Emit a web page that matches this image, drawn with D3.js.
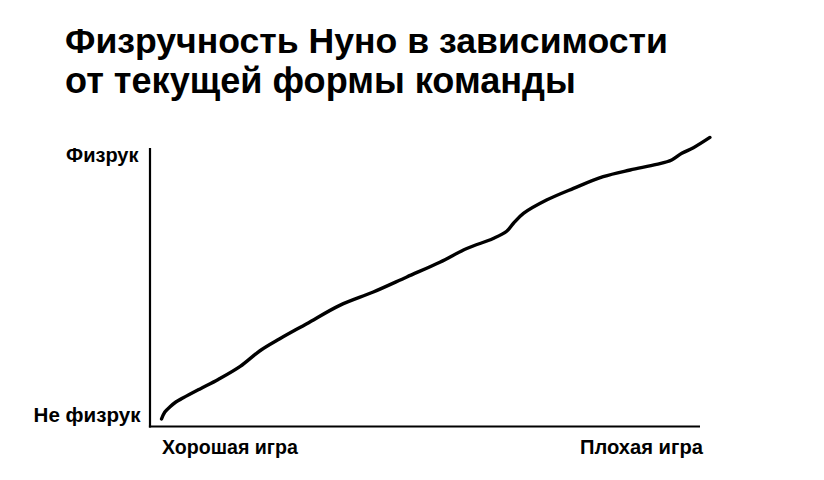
<!DOCTYPE html>
<html>
<head>
<meta charset="utf-8">
<script src="https://cdn.jsdelivr.net/npm/d3@7"></script>
<style>
  html, body { margin: 0; padding: 0; background: #fff; }
  svg { display: block; }
  text { font-family: "Liberation Sans", Arial, sans-serif; font-weight: bold; fill: #000; }
</style>
</head>
<body>
<script>
// ---- Data ----
const titleLines = ["Физручность Нуно в зависимости", "от текущей формы команды"];
const yLabels = ["Не физрук", "Физрук"];
const xLabels = ["Хорошая игра", "Плохая игра"];
// Team form (0 = good game, 100 = bad game)
const formValues = [2.1, 2.7, 3.6, 4.7, 6.05, 9.1, 12.4, 16.4, 20.0, 23.6, 28.5, 34.5, 40.6, 46.7, 52.7, 57.6, 62.4, 64.85, 66.05, 67.9, 72.1, 77.0, 82.4, 87.3, 92.1, 94.85, 96.7, 98.8, 101.8];
// Fizruk level (0 = not fizruk, 100 = fizruk)
const fizrukValues = [2.7, 5.2, 7.0, 8.8, 10.3, 13.5, 16.9, 21.6, 27.2, 31.5, 36.9, 43.5, 48.3, 53.7, 59.0, 63.9, 67.5, 70.1, 72.9, 76.5, 81.3, 85.5, 89.7, 92.1, 94.1, 95.7, 98.1, 100.1, 103.8];

const W = 824, H = 480;
const svg = d3.select("body").append("svg").attr("width", W).attr("height", H);

const x = d3.scaleLinear().domain([0, 100]).range([150, 700]);
const y = d3.scaleLinear().domain([0, 100]).range([426.5, 148]);

function fitText(sel, targetWidth) {
  const base = 20;
  sel.style("font-size", base + "px");
  const w = sel.node().getComputedTextLength();
  sel.style("font-size", (base * targetWidth / w) + "px");
  return sel;
}

// Title
fitText(svg.append("text").attr("x", 65).attr("y", 53).text(titleLines[0]), 603);
fitText(svg.append("text").attr("x", 65).attr("y", 93).text(titleLines[1]), 511);

// Axes
const yAxis = d3.axisLeft(y).tickValues([]).tickSizeOuter(0);
const xAxis = d3.axisBottom(x).tickValues([]).tickSizeOuter(0);
const gy = svg.append("g").attr("transform", `translate(${x(0)},0)`).call(yAxis);
const gx = svg.append("g").attr("transform", `translate(0,${y(0)})`).call(xAxis);
[gx, gy].forEach(g => g.select(".domain").attr("stroke", "#000").attr("stroke-width", 2.2));
gy.select(".domain").attr("d", `M0,${y(100)}V${y(0) + 1.1}`);
gx.select(".domain").attr("d", `M${x(0) - 1.1},0H${x(100)}`);

// Axis labels
fitText(svg.append("text").attr("x", 138.5).attr("y", 162).attr("text-anchor", "end").text(yLabels[1]), 72.5);
fitText(svg.append("text").attr("x", 140.5).attr("y", 421.5).attr("text-anchor", "end").text(yLabels[0]), 107);
fitText(svg.append("text").attr("x", 162).attr("y", 453.5).text(xLabels[0]), 136);
fitText(svg.append("text").attr("x", 580).attr("y", 453.5).text(xLabels[1]), 123);

// Curve
const pts = formValues.map((v, i) => [v, fizrukValues[i]]);
const line = d3.line().x(d => x(d[0])).y(d => y(d[1])).curve(d3.curveCatmullRom.alpha(0.5));
svg.append("path").datum(pts)
  .attr("d", line)
  .attr("fill", "none")
  .attr("stroke", "#000")
  .attr("stroke-width", 3.4)
  .attr("stroke-linecap", "round")
  .attr("stroke-linejoin", "round");
</script>
</body>
</html>
